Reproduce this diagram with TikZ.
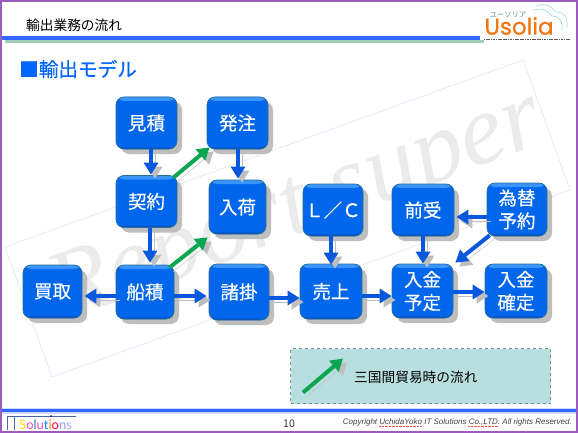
\documentclass[tikz,border=0pt]{standalone}
\usepackage{fontspec}
\setmainfont{Noto Sans CJK JP}
\newfontfamily\boxfont{Noto Sans CJK JP}[FakeBold=0.4]
\newfontfamily\wmfont{Liberation Serif}
\newfontfamily\cpfont{Liberation Sans}
\newfontfamily\logofont{Poppins}[FakeBold=0.8]
\newfontfamily\solfont{Lato}
\usetikzlibrary{arrows.meta,calc,shadows}
\definecolor{frameviolet}{RGB}{155,92,190}
\definecolor{ruleblue}{RGB}{51,102,255}
\definecolor{rulegreen}{RGB}{160,205,180}
\definecolor{headblue}{RGB}{0,102,255}
\definecolor{boxblue}{RGB}{0,102,236}
\definecolor{boxlight}{RGB}{60,150,250}
\definecolor{boxdark}{RGB}{5,70,170}
\definecolor{boxedge}{RGB}{40,110,150}
\definecolor{arrowblue}{RGB}{8,88,222}
\definecolor{arrowgreen}{RGB}{12,165,80}
\definecolor{softshadow}{RGB}{190,190,190}
\definecolor{legendfill}{RGB}{184,222,224}
\definecolor{legendedge}{RGB}{110,145,145}
\definecolor{logoorange}{RGB}{240,120,20}
\definecolor{logoteal}{RGB}{150,215,210}

\begin{document}
\begin{tikzpicture}[
  x=1pt, y=-1pt,
  procbox/.style={
    draw=boxedge, fill=boxblue, line width=0.7pt, rounded corners=8pt,
    inner sep=0pt, text=white, align=center,
    minimum width=61pt, minimum height=53pt,
    font=\fontsize{18.5}{23}\selectfont\boxfont,
    drop shadow={shadow xshift=5pt, shadow yshift=-5pt, fill=softshadow, opacity=1},
    path picture={
      \shade[top color=boxlight, bottom color=boxblue]
        (path picture bounding box.north west) rectangle
        ([yshift=-4pt]path picture bounding box.north east);
      \shade[top color=boxblue, bottom color=boxdark]
        ([yshift=3pt]path picture bounding box.south west) rectangle
        (path picture bounding box.south east);
    }
  },
  flowarrow/.style={
    -{Triangle[length=12pt, width=14pt]}, line width=4pt, draw=arrowblue,
    preaction={draw=softshadow, transform canvas={xshift=4pt, yshift=-4pt}}
  },
  tradearrow/.style={flowarrow, draw=arrowgreen},
  sheetline/.style={draw=blue!15, line width=0.4pt}
]

% Page frame and header rules.
\useasboundingbox (0,0) rectangle (578,433);
\fill[white] (0,0) rectangle (578,433);

% Watermark sheet behind the flow.
\draw[sheetline] (5,247) -- (523,60) -- (570,190) -- (52,377) -- cycle;
\node[rotate=20.5, text=black!8, font=\fontsize{100}{100}\selectfont\wmfont\itshape]
  (watermark) at (298,211) {Report super};

\fill[rulegreen] (5,40) rectangle (484,43.5);
\fill[ruleblue] (2,36) rectangle (480,40.5);
\node[anchor=west, inner sep=0pt, font=\fontsize{13.7}{14}\selectfont]
  (pagetitle) at (26,25) {輸出業務の流れ};
\node[anchor=west, inner sep=0pt, text=headblue, font=\fontsize{19.6}{20}\selectfont\boxfont]
  (heading) at (19,69) {■輸出モデル};

% Logo.
\node[anchor=center, inner sep=0pt, text=logoorange, font=\fontsize{23}{23}\selectfont\logofont]
  (logoword) at (519,26) {Usolia};
\node[anchor=center, inner sep=0pt, text=logoteal!70!black, font=\fontsize{7.4}{8}\selectfont]
  (logokana) at (508,15) {ユーソリア};
\draw[logoteal, line width=0.6pt]
  (536,6) .. controls (548,2) and (552,8) .. (556,12) .. controls (566,12) and (568,20) .. (567,28);
\draw[logoteal, line width=0.6pt]
  (534,10) .. controls (544,7) and (548,12) .. (552,16) .. controls (560,16) and (563,22) .. (562,30);
\draw[black!65, line width=1pt, dash pattern=on 1.2pt off 0.5pt] (484,39.5) -- (570,39.5);

% Flow boxes.
\node[procbox, minimum height=52pt] (mitsumori) at (146.5,123) {見積};
\node[procbox, minimum height=52pt] (hatchu)    at (237.5,123) {発注};
\node[procbox, minimum height=52pt] (keiyaku)   at (146.5,201.5) {契約};
\node[procbox, minimum width=57pt, minimum height=54pt] (nyuka) at (237.5,207) {入荷};
\node[procbox, minimum width=59pt] (kaitori)   at (52.5,291.5) {買取};
\node[procbox, minimum width=58pt, minimum height=54pt] (funazumi) at (145,292) {船積};
\node[procbox, minimum width=60pt, minimum height=56pt] (shokakari) at (239,292) {諸掛};
\node[procbox, minimum width=62pt, minimum height=55pt] (uriage) at (331,291.5) {売上};
\node[procbox, minimum height=54pt] (yotei)     at (422.5,291) {入金\\予定};
\node[procbox, minimum width=62pt, minimum height=54pt] (kakutei) at (516,291) {入金\\確定};
\node[procbox, minimum width=60pt, minimum height=52pt] (lc) at (333,210) {Ｌ／Ｃ};
\node[procbox, minimum width=62pt, minimum height=52pt] (maeuke) at (423,210) {前受};
\node[procbox, minimum width=60pt] (kawase)    at (517,209.5) {為替\\予約};

% Ordinary flow.
\draw[flowarrow] ([xshift=4.5pt]mitsumori.south) -- ([xshift=4.5pt,yshift=0.5pt]keiyaku.north);
\draw[flowarrow] ([xshift=3.5pt]keiyaku.south) -- ([xshift=5pt,yshift=2pt]funazumi.north);
\draw[flowarrow] ([xshift=0.5pt]hatchu.south) -- ([xshift=0.5pt,yshift=1pt]nyuka.north);
\draw[flowarrow] ([yshift=-4pt]funazumi.west) -- ([yshift=-4.5pt,xshift=2pt]kaitori.east);
\draw[flowarrow] ([yshift=-4pt]funazumi.east) -- ([yshift=-4pt,xshift=-2pt]shokakari.west);
\draw[flowarrow] ([yshift=-6pt]shokakari.east) -- ([yshift=-6.5pt]uriage.west);
\draw[flowarrow] ([yshift=-4.5pt]uriage.east) -- ([yshift=-5pt]yotei.west);
\draw[flowarrow] ([yshift=-1pt]yotei.east) -- ([yshift=-1pt]kakutei.west);
\draw[flowarrow] ([xshift=-2pt]lc.south) -- ([yshift=-1pt]uriage.north);
\draw[flowarrow] (maeuke.south) -- ([xshift=0.5pt]yotei.north);
\draw[flowarrow] ([yshift=-7.5pt]kawase.west) -- ([yshift=-7pt,xshift=2pt]maeuke.east);
\draw[flowarrow] ([xshift=3pt,yshift=1pt]kawase.south west) -- ([xshift=2pt,yshift=1pt]yotei.north east);

% Three-country trade flow.
\draw[tradearrow] ([xshift=-4pt,yshift=-2.5pt]keiyaku.north east) -- ([xshift=3pt,yshift=2pt]hatchu.south west);
\draw[tradearrow] ([xshift=-5pt,yshift=-3pt]funazumi.north east) -- ([xshift=-1pt,yshift=-3pt]nyuka.south west);

% Legend.
\node[draw=legendedge, fill=legendfill, line width=1.1pt, dashed, inner sep=0pt,
  minimum width=260pt, minimum height=55pt, anchor=north west]
  (legend) at (290,348) {};
\coordinate (legtail) at ([xshift=13pt,yshift=-16.5pt]legend.west);
\coordinate (leghead) at ([xshift=53pt,yshift=17.5pt]legend.west);
\draw[tradearrow] (legtail) -- (leghead);
\node[anchor=west, inner sep=0pt, font=\fontsize{13.7}{14}\selectfont]
  (legendtext) at ([xshift=64pt,yshift=-1pt]legend.west) {三国間貿易時の流れ};

% Footer.
\fill[ruleblue!25] (2,408) rectangle (576,413.5);
\fill[ruleblue] (2,409) rectangle (576,412);
\draw[ruleblue!60!black!80, line width=0.6pt] (7,430) -- (7,416) (14,430) -- (14,416) (7,416) -- (76,416);
\fill[black] (51,416) circle (0.9pt);
\node[anchor=west, inner sep=0pt, font=\fontsize{13}{13}\selectfont\solfont]
  (solutions) at (19,425) {\textcolor{yellow!85!orange}{S}\textcolor{magenta!70}{o}\textcolor{cyan!70!blue}{l}\textcolor{magenta!70}{u}\textcolor{blue!50!cyan}{t}\textcolor{orange}{i}\textcolor{red!70!magenta}{o}\textcolor{blue!40}{n}\textcolor{blue!35}{s}};
\node[inner sep=0pt, text=black!80, font=\fontsize{10.5}{11}\selectfont]
  (pageno) at (289,424) {10};
\node[anchor=east, inner sep=0pt, text=black!75, font=\fontsize{8}{8}\selectfont\cpfont\itshape]
  (copyright) at (572,422) {Copyright UchidaYoko IT Solutions Co.,LTD. All rights Reserved.};
\draw[red!70, line width=0.4pt, densely dotted] (379,426.5) -- (422,426.5) (468,426.5) -- (498,426.5);

\draw[frameviolet, line width=2.8pt] (0.9,0.9) rectangle (577.1,432.1);
\end{tikzpicture}
\end{document}
